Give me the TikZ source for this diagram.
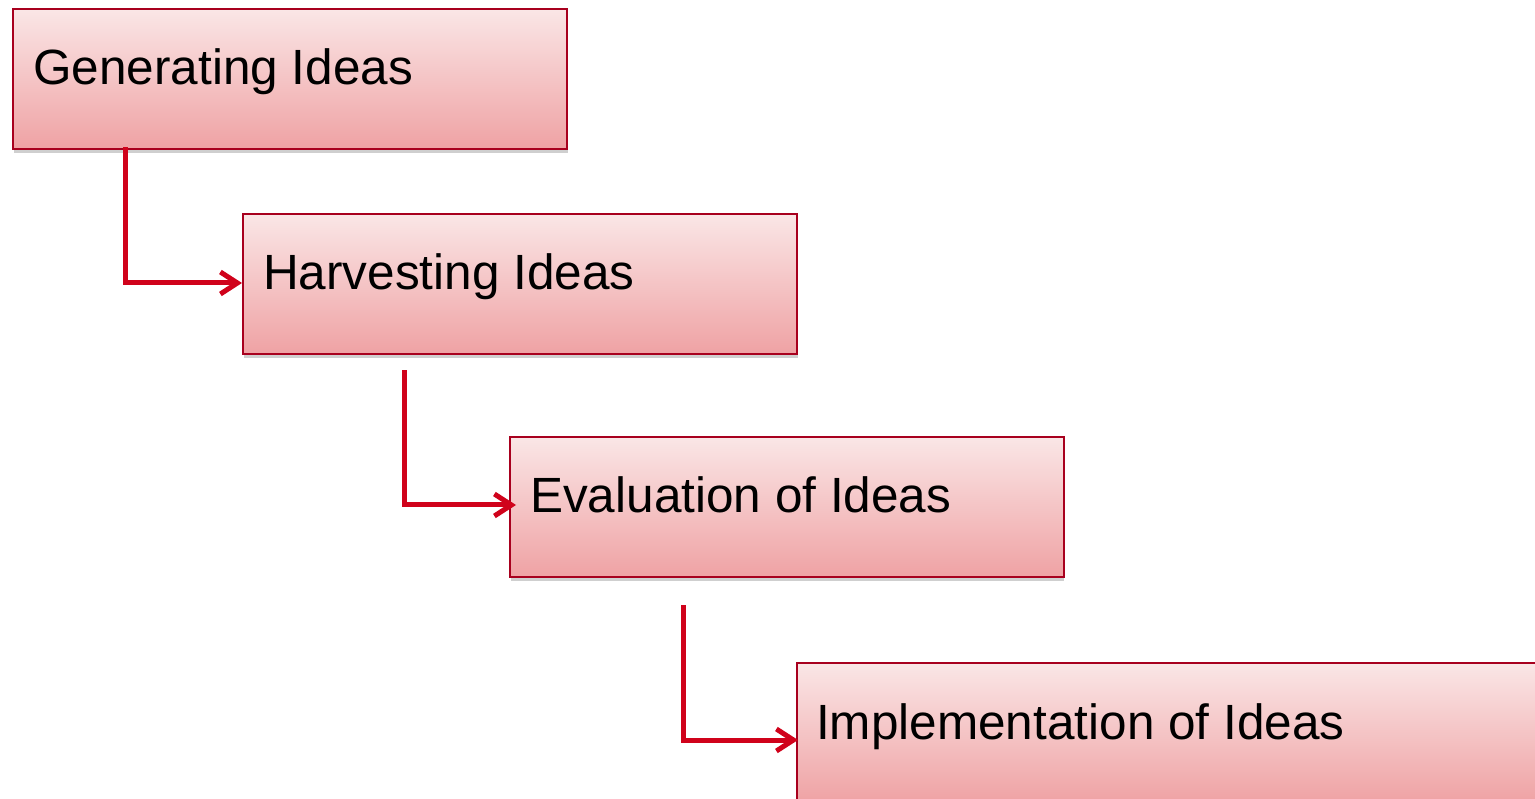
\documentclass[tikz,border=0pt]{standalone}
\usepackage{fontspec}
\setmainfont{Liberation Sans}
\usetikzlibrary{arrows.meta,calc}
\definecolor{boxborder}{HTML}{A8001E}
\definecolor{arrowred}{HTML}{D0021B}
\definecolor{filltop}{HTML}{FAE6E6}
\definecolor{fillbot}{HTML}{EFA2A4}
\definecolor{shadowgray}{HTML}{CFCFCF}
\tikzset{
  stagebox/.style={draw=boxborder, line width=2pt, rectangle, anchor=north west,
    minimum width=554pt, minimum height=140pt, inner sep=0pt,
    top color=filltop, bottom color=fillbot},
  stagetext/.style={anchor=base west, inner sep=0pt, font=\fontsize{49.5}{60}\selectfont},
  flow/.style={draw=arrowred, line width=5pt, line cap=rect,
    -{Straight Barb[length=17pt,width=22pt,line width=5pt]}},
}
\begin{document}
\begin{tikzpicture}[x=1pt,y=-1pt]
\useasboundingbox (0,0) rectangle (1535,799);
\begin{scope}
\clip (0,0) rectangle (1535,799);
% shadows
\fill[shadowgray] (14,148) rectangle (568,153);
\fill[shadowgray] (244,353) rectangle (798,358);
\fill[shadowgray] (511,576) rectangle (1064,581);
% boxes
\node[stagebox] (g) at (12,8) {};
\node[stagebox] (h) at (242,213) {};
\node[stagebox] (e) at (509,436) {};
\node[stagebox, minimum width=800pt] (i) at (796,662) {};
% texts
\node[stagetext] (gt) at ($(g.north west)+(21,77)$) {Generating Ideas};
\node[stagetext] (ht) at ($(h.north west)+(21,77)$) {Harvesting Ideas};
\node[stagetext] (et) at ($(e.north west)+(21,77)$) {Evaluation of Ideas};
\node[stagetext] (it) at ($(i.north west)+(20,77)$) {Implementation of Ideas};
% connector anchors
\coordinate (a1s) at ($(g.south west)+(113,0)$);
\coordinate (a1t) at (h.west |- 0,283);
\coordinate (a2s) at (404,373);
\coordinate (a2t) at (516,505);
\coordinate (a3s) at (683,607);
\coordinate (a3t) at (798,740);
\draw[flow] (a1s) |- (a1t);
\draw[flow] (a2s) |- (a2t);
\draw[flow] (a3s) |- (a3t);
\end{scope}
\end{tikzpicture}
\end{document}
